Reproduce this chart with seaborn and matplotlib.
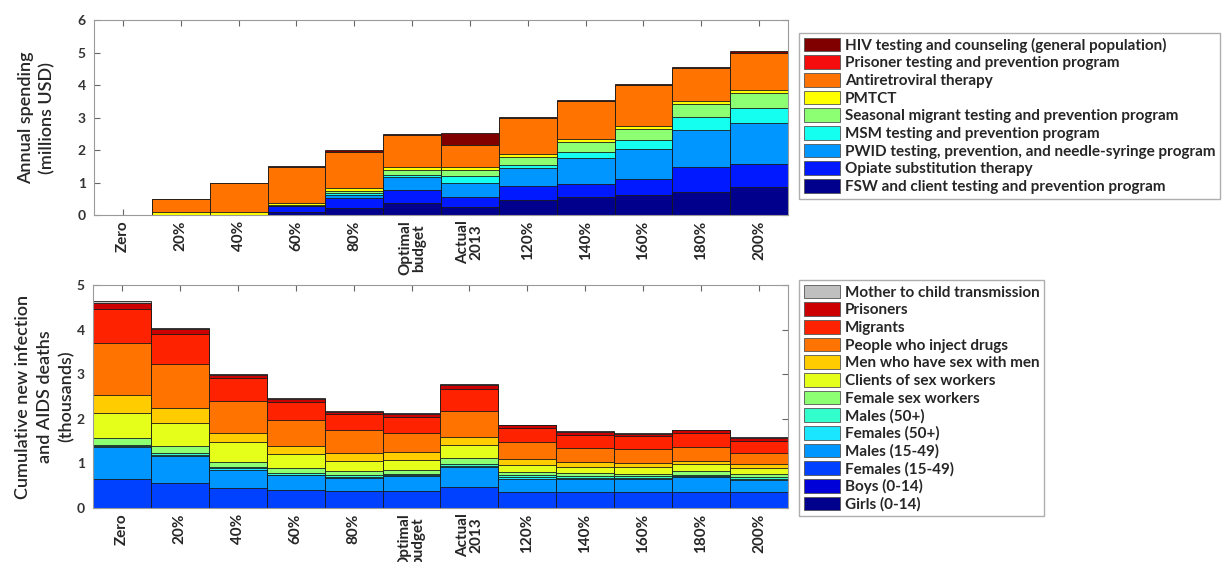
import numpy as np
import matplotlib
matplotlib.use('Agg')
import matplotlib.pyplot as plt
import seaborn as sns
from matplotlib.patches import Patch

categories = ['Zero', '20%', '40%', '60%', '80%', 'Optimal\nbudget', 'Actual\n2013',
              '120%', '140%', '160%', '180%', '200%']

# annual spending by program (millions USD), stacked bottom -> top
fsw_prog = [0, 0, 0, 0.10, 0.23, 0.36, 0.26, 0.46, 0.56, 0.62, 0.72, 0.87]
opiate = [0, 0, 0, 0.17, 0.28, 0.41, 0.28, 0.44, 0.38, 0.48, 0.77, 0.70]
pwid_prog = [0, 0, 0, 0.02, 0.11, 0.41, 0.43, 0.56, 0.80, 0.92, 1.13, 1.25]
msm_prog = [0, 0, 0, 0, 0.05, 0.05, 0.22, 0.08, 0.20, 0.29, 0.39, 0.48]
seasonal = [0, 0, 0, 0.02, 0.08, 0.16, 0.20, 0.23, 0.31, 0.33, 0.41, 0.44]
pmtct = [0, 0.08, 0.08, 0.07, 0.08, 0.10, 0.10, 0.10, 0.08, 0.10, 0.10, 0.10]
art = [0, 0.40, 0.89, 1.11, 1.12, 0.96, 0.67, 1.11, 1.17, 1.26, 1.00, 1.16]
prisoner_prog = [0, 0, 0, 0, 0, 0, 0, 0, 0, 0, 0, 0]
hiv_testing = [0, 0.02, 0.03, 0.03, 0.05, 0.05, 0.36, 0.04, 0.04, 0.04, 0.04, 0.05]

spend_labels = ['FSW and client testing and prevention program',
                'Opiate substitution therapy',
                'PWID testing, prevention, and needle-syringe program',
                'MSM testing and prevention program',
                'Seasonal migrant testing and prevention program',
                'PMTCT',
                'Antiretroviral therapy',
                'Prisoner testing and prevention program',
                'HIV testing and counseling (general population)']
spend_colors = ['#00008c', '#0019ff', '#0096ff', '#14fff0', '#8cff73',
                '#ffff00', '#ff7300', '#f50d0d', '#800000']

# cumulative new infections + AIDS deaths (thousands), stacked bottom -> top
girls = [0, 0, 0, 0, 0, 0, 0, 0, 0, 0, 0, 0]
boys = [0, 0, 0, 0, 0, 0, 0, 0, 0, 0, 0, 0]
females_1549 = [0.65, 0.57, 0.45, 0.40, 0.37, 0.37, 0.47, 0.35, 0.35, 0.35, 0.36, 0.35]
males_1549 = [0.71, 0.60, 0.41, 0.33, 0.31, 0.34, 0.46, 0.31, 0.30, 0.30, 0.33, 0.28]
females_50 = [0.02, 0.02, 0.03, 0.02, 0.02, 0.02, 0.02, 0.03, 0.02, 0.02, 0.02, 0.03]
males_50 = [0.04, 0.04, 0.04, 0.04, 0.03, 0.04, 0.03, 0.04, 0.04, 0.04, 0.04, 0.04]
fsw = [0.16, 0.16, 0.11, 0.10, 0.10, 0.08, 0.13, 0.08, 0.07, 0.06, 0.07, 0.06]
clients = [0.56, 0.52, 0.43, 0.32, 0.23, 0.22, 0.30, 0.16, 0.15, 0.15, 0.16, 0.13]
msm = [0.40, 0.34, 0.22, 0.17, 0.18, 0.18, 0.19, 0.13, 0.11, 0.10, 0.08, 0.09]
pwid = [1.15, 0.98, 0.72, 0.60, 0.52, 0.43, 0.58, 0.37, 0.31, 0.31, 0.31, 0.26]
migrants = [0.77, 0.67, 0.51, 0.40, 0.34, 0.35, 0.48, 0.32, 0.29, 0.28, 0.31, 0.27]
prisoners = [0.14, 0.11, 0.07, 0.07, 0.06, 0.07, 0.09, 0.06, 0.07, 0.06, 0.06, 0.06]
mtct = [0.04, 0.03, 0.02, 0.02, 0.02, 0.02, 0.02, 0.02, 0.02, 0.02, 0.02, 0.02]

pop_labels = ['Girls (0-14)', 'Boys (0-14)', 'Females (15-49)', 'Males (15-49)',
              'Females (50+)', 'Males (50+)', 'Female sex workers',
              'Clients of sex workers', 'Men who have sex with men',
              'People who inject drugs', 'Migrants', 'Prisoners',
              'Mother to child transmission']
pop_colors = ['#00008c', '#0000d9', '#0040ff', '#0096ff', '#1ae6ff', '#33ffcc',
              '#8cff73', '#e6ff1a', '#ffcc00', '#ff7300', '#ff2200', '#cc0000',
              '#bfbfbf']

sns.set_style('ticks')
plt.rcParams['font.family'] = ['Lato', 'DejaVu Sans']

LEG_FONT = {'family': 'Lato', 'weight': 'bold', 'size': 11}
LABEL_FONT = {'family': 'Lato', 'weight': 'semibold', 'size': 13}


def stacked_bars(ax, layers, colors):
    """Stack by drawing cumulative totals, top layer first."""
    totals = np.cumsum(np.array(layers, dtype=float), axis=0)
    for k in range(len(layers) - 1, -1, -1):
        sns.barplot(x=categories, y=totals[k], color=colors[k], saturation=1,
                    width=1, edgecolor='#1a1a1a', linewidth=0.6,
                    errorbar=None, ax=ax)


def style_axes(ax, ymax):
    ax.set_ylim(0, ymax)
    ax.set_xlim(-0.5, len(categories) - 0.5)
    ax.set_yticks(range(ymax + 1))
    ax.set_axisbelow(True)
    ax.tick_params(direction='in', top=True, right=True, length=4,
                   color='#666666', labelsize=10)
    ax.tick_params(axis='x', pad=4, labelsize=11)
    ax.tick_params(axis='y', pad=6)
    for lab in ax.get_xticklabels():
        lab.set_rotation(90)
        lab.set_fontweight('bold')
        lab.set_ha('center')
        lab.set_va('top')
        lab.set_linespacing(0.95)
    for lab in ax.get_yticklabels():
        lab.set_fontweight('bold')
        lab.set_color('#333333')
    for sp in ax.spines.values():
        sp.set_color('#9a9a9a')
        sp.set_linewidth(0.8)
    ax.set_xlabel('')


fig = plt.figure(figsize=(12.27, 5.62), dpi=100)
ax1 = fig.add_axes([94 / 1227, 1 - 215 / 562, 694 / 1227, 195 / 562])
ax2 = fig.add_axes([93 / 1227, 1 - 508 / 562, 695 / 1227, 223 / 562])

stacked_bars(ax1, [fsw_prog, opiate, pwid_prog, msm_prog, seasonal, pmtct, art,
                   prisoner_prog, hiv_testing], spend_colors)
style_axes(ax1, 6)
ax1.set_ylabel('Annual spending\n(millions USD)', fontdict=LABEL_FONT,
               linespacing=1.4)
ax1.yaxis.set_label_coords(-0.056, 0.5)

stacked_bars(ax2, [girls, boys, females_1549, males_1549, females_50, males_50,
                   fsw, clients, msm, pwid, migrants, prisoners, mtct], pop_colors)
style_axes(ax2, 5)
ax2.set_ylabel('Cumulative new infection\nand AIDS deaths\n(thousands)',
               fontdict=LABEL_FONT, linespacing=1.45)
ax2.yaxis.set_label_coords(-0.026, 0.5)

leg_kw = dict(loc='upper left', frameon=True, fancybox=False, prop=LEG_FONT,
              handlelength=2.4, handleheight=1.0, handletextpad=0.3,
              labelspacing=0.17, borderpad=0.3, borderaxespad=0)

h1 = [Patch(facecolor=c, edgecolor='#555555', linewidth=0.6, label=l)
      for c, l in zip(spend_colors, spend_labels)][::-1]
leg1 = fig.legend(handles=h1, bbox_to_anchor=(799 / 1227, 1 - 33 / 562), **leg_kw)
leg1.get_frame().set_edgecolor('#9a9a9a')

h2 = [Patch(facecolor=c, edgecolor='#555555', linewidth=0.6, label=l)
      for c, l in zip(pop_colors, pop_labels)][::-1]
leg2 = fig.legend(handles=h2, bbox_to_anchor=(799 / 1227, 1 - 280 / 562), **leg_kw)
leg2.get_frame().set_edgecolor('#9a9a9a')

fig.savefig('out.png', dpi=100)
